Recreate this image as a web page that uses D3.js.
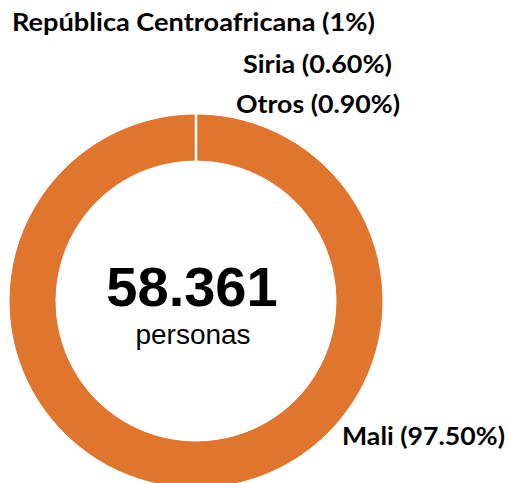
<!DOCTYPE html>
<html>
<head>
<meta charset="utf-8">
<script src="https://cdn.jsdelivr.net/npm/d3@7"></script>
<style>
  body { margin: 0; background: #fff; }
  svg { display: block; }
</style>
</head>
<body>
<div id="chart"></div>
<script>
// data
var countries = ["Mali", "República Centroafricana", "Siria", "Otros"];
var shares = [97.5, 1, 0.6, 0.9];
var shareLabels = ["97.50%", "1%", "0.60%", "0.90%"];
var total = "58.361";
var totalUnit = "personas";

var W = 509, H = 483;
var cx = 196, cy = 301, rOuter = 186, rInner = 141;
var orange = "#E0762E";

var svg = d3.select("#chart").append("svg")
	.attr("width", W)
	.attr("height", H);

var pie = d3.pie().sort(null).value(function (d) { return d; });
var arcs = pie(shares);
var arc = d3.arc().innerRadius(rInner).outerRadius(rOuter);

var g = svg.append("g").attr("transform", "translate(" + cx + "," + cy + ")");

// full ring underneath so tiny slices show no seams
g.append("path")
	.attr("d", d3.arc().innerRadius(rInner).outerRadius(rOuter)({startAngle: 0, endAngle: 2 * Math.PI}))
	.attr("fill", orange);

g.selectAll("path.slice")
	.data(arcs)
	.enter().append("path")
	.attr("class", "slice")
	.attr("d", arc)
	.attr("fill", orange)
	.attr("stroke", orange)
	.attr("stroke-width", 1);

// single white separator where the ring starts
var a0 = arcs[0].startAngle;
g.append("line")
	.attr("x1", Math.sin(a0) * (rInner - 2))
	.attr("y1", -Math.cos(a0) * (rInner - 2))
	.attr("x2", Math.sin(a0) * (rOuter + 2))
	.attr("y2", -Math.cos(a0) * (rOuter + 2))
	.attr("stroke", "#fff")
	.attr("stroke-width", 2.5);

// centre text
g.append("text")
	.attr("x", -4).attr("y", 5)
	.attr("text-anchor", "middle")
	.style("font-family", "Liberation Sans, Arial, sans-serif")
	.style("font-weight", "bold")
	.style("font-size", "56px")
	.attr("fill", "#000")
	.text(total);

g.append("text")
	.attr("x", -3).attr("y", 43)
	.attr("text-anchor", "middle")
	.style("font-family", "Liberation Sans, Arial, sans-serif")
	.style("font-size", "28px")
	.attr("fill", "#000")
	.text(totalUnit);

// outside labels, positions placed by hand like the original data labels
var labelPos = [[342, 445], [12, 31], [243, 73], [236, 113]];
var labelLen = [163, 363, 149, 164];
svg.selectAll("text.lbl")
	.data(countries)
	.enter().append("text")
	.attr("class", "lbl")
	.attr("x", function (d, i) { return labelPos[i][0]; })
	.attr("y", function (d, i) { return labelPos[i][1]; })
	.attr("textLength", function (d, i) { return labelLen[i]; })
	.attr("lengthAdjust", "spacingAndGlyphs")
	.style("font-family", "Lato, Carlito, sans-serif")
	.style("font-weight", "bold")
	.style("font-size", "25px")
	.attr("fill", "#000")
	.text(function (d, i) { return d + " (" + shareLabels[i] + ")"; });
</script>
</body>
</html>
